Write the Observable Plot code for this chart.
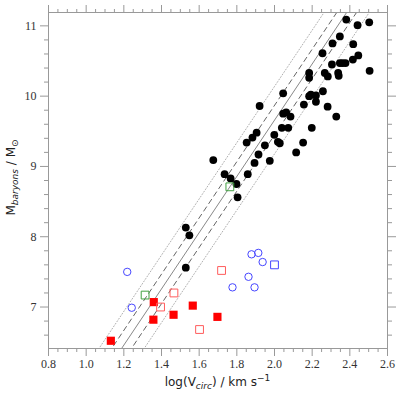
<!DOCTYPE html>
<html>
<head>
<meta charset="utf-8">
<script src="https://cdn.jsdelivr.net/npm/d3@7"></script>
<script src="https://cdn.jsdelivr.net/npm/@observablehq/plot@0.6"></script>
<style>
  html, body { margin: 0; padding: 0; background: #fff; }
</style>
</head>
<body>
<div id="chart"></div>
<script>
// ---- data (log Vcirc, log Mbaryons) ----
const blackX = [2.381, 2.441, 2.503, 2.347, 2.308, 2.418, 2.255, 2.445, 2.416, 2.305,
  2.347, 2.361, 2.377, 2.505, 2.184, 2.184, 2.267, 2.283, 2.338, 2.341,
  2.046, 2.184, 2.193, 2.22, 2.257, 2.22, 2.156, 2.282, 2.328, 1.921,
  2.046, 2.062, 2.085, 2.039, 2.073, 2.198, 1.905, 1.883, 1.852, 1.999,
  1.949, 2.018, 2.028, 2.152, 2.115, 1.915, 1.894, 1.975, 1.675, 1.858,
  1.735, 1.767, 1.798, 1.804, 1.529, 1.548, 1.529];
const blackM = [11.09, 11.01, 11.05, 10.85, 10.75, 10.74, 10.61, 10.58, 10.52, 10.45,
  10.47, 10.47, 10.47, 10.36, 10.33, 10.26, 10.33, 10.28, 10.33, 10.29,
  10.04, 10.00, 10.02, 10.01, 10.07, 9.92, 9.88, 9.85, 9.71, 9.86,
  9.75, 9.77, 9.71, 9.55, 9.55, 9.55, 9.48, 9.41, 9.34, 9.45,
  9.30, 9.35, 9.33, 9.34, 9.20, 9.17, 9.05, 9.08, 9.09, 8.89,
  8.89, 8.83, 8.75, 8.56, 8.13, 8.02, 7.56];

const greenSqX = [1.763, 1.313];
const greenSqM = [8.71, 7.17];

const blueCircX = [1.218, 1.242, 1.878, 1.914, 1.937, 1.862, 1.777, 1.894];
const blueCircM = [7.50, 6.99, 7.75, 7.77, 7.64, 7.43, 7.28, 7.28];

const blueSqX = [2.0];
const blueSqM = [7.60];

const redOpenX = [1.466, 1.395, 1.602, 1.719];
const redOpenM = [7.20, 7.00, 6.68, 7.52];

const redFillX = [1.359, 1.357, 1.464, 1.566, 1.697, 1.131];
const redFillM = [7.07, 6.82, 6.89, 7.02, 6.86, 6.52];

// relation: log M = slope * log V + intercept (+ scatter bands)
const fitSlope = 4.0;
const fitIntercept = 1.658;
const fitOffsets = [0, -0.21, 0.21, -0.48, 0.48];
const fitEnds = [0.8, 2.6];

// axes
const xTicks = [0.8, 1.0, 1.2, 1.4, 1.6, 1.8, 2.0, 2.2, 2.4, 2.6];
const yTicks = [7, 8, 9, 10, 11];
const xDomain = [0.8, 2.6];
const yDomain = [6.41, 11.19];

// ---- build ----
const pts = (xs, ms) => xs.map((x, i) => ({x, m: ms[i]}));
const isMajor = (v, majors) => majors.some(t => Math.abs(t - v) < 1e-6);
const xMinor = d3.range(0.8, 2.6001, 0.05).filter(v => !isMajor(v, xTicks));
const yMinor = d3.range(6.6, 11.1, 0.2).filter(v => !isMajor(v, yTicks));

const lineStyles = [
  {stroke: "#888", dash: null},
  {stroke: "#666", dash: "5,4"},
  {stroke: "#666", dash: "5,4"},
  {stroke: "#b0b0b0", dash: "1,2"},
  {stroke: "#b0b0b0", dash: "1,2"}
];

const axisCol = "#999";
const labCol = "#333";
const serif = "'Liberation Serif', 'Times New Roman', serif";
const noText = () => "";

const marks = [
  ...fitOffsets.map((off, i) => Plot.line(fitEnds, {
    x: d => d, y: d => fitSlope * d + fitIntercept + off,
    stroke: lineStyles[i].stroke, strokeWidth: 1,
    strokeDasharray: lineStyles[i].dash, clip: true
  })),
  Plot.dot(pts(blackX, blackM), {x: "x", y: "m", r: 3.9, fill: "#000", stroke: "none"}),
  Plot.dot(pts(redFillX, redFillM), {x: "x", y: "m", symbol: "square", r: 4.6, fill: "#ff0000", stroke: "none"}),
  Plot.dot(pts(redOpenX, redOpenM), {x: "x", y: "m", symbol: "square", r: 4.4, fill: "none", stroke: "#ff5c5c", strokeWidth: 1}),
  Plot.dot(pts(greenSqX, greenSqM), {x: "x", y: "m", symbol: "square", r: 4.4, fill: "none", stroke: "#43a043", strokeWidth: 1}),
  Plot.dot(pts(blueSqX, blueSqM), {x: "x", y: "m", symbol: "square", r: 4.4, fill: "none", stroke: "#4646ff", strokeWidth: 1}),
  Plot.dot(pts(blueCircX, blueCircM), {x: "x", y: "m", r: 3.7, fill: "none", stroke: "#4646ff", strokeWidth: 1}),
  Plot.frame({stroke: axisCol}),
  // bottom axis
  Plot.axisX(xTicks, {anchor: "bottom", tickSize: 8, tickPadding: 3, tickFormat: d => d.toFixed(1), stroke: axisCol, fill: labCol, fontFamily: serif, fontSize: 12, label: null}),
  Plot.axisX(xMinor, {anchor: "bottom", tickSize: 4, tickFormat: noText, stroke: axisCol, label: null}),
  // top axis
  Plot.axisX(xTicks, {anchor: "top", tickSize: 8, tickFormat: noText, stroke: axisCol, label: null}),
  Plot.axisX(xMinor, {anchor: "top", tickSize: 4, tickFormat: noText, stroke: axisCol, label: null}),
  // left axis
  Plot.axisY(yTicks, {anchor: "left", tickSize: 8, tickPadding: 4, tickFormat: d => String(d), stroke: axisCol, fill: labCol, fontFamily: serif, fontSize: 12, label: null}),
  Plot.axisY(yMinor, {anchor: "left", tickSize: 4, tickFormat: noText, stroke: axisCol, label: null}),
  // right axis
  Plot.axisY(yTicks, {anchor: "right", tickSize: 8, tickFormat: noText, stroke: axisCol, label: null}),
  Plot.axisY(yMinor, {anchor: "right", tickSize: 4, tickFormat: noText, stroke: axisCol, label: null})
];

const plot = Plot.plot({
  width: 400,
  height: 395,
  marginTop: 12,
  marginRight: 13,
  marginBottom: 47,
  marginLeft: 48,
  x: {domain: xDomain},
  y: {domain: yDomain},
  style: {fontFamily: serif, fontSize: "12px", background: "#fff", color: "#333"},
  marks
});

// make sure tick labels use the serif face
d3.select(plot).selectAll("text").attr("font-family", serif).style("font-family", serif);

// axis titles with sub/superscripts
const svg = d3.select(plot);
const sans = "'DejaVu Sans', sans-serif";
const xl = svg.append("text")
  .attr("x", 217.5).attr("y", 385.5)
  .attr("text-anchor", "middle")
  .style("font-family", sans).attr("font-size", 12).attr("fill", "#222");
xl.append("tspan").text("log(V");
xl.append("tspan").attr("dy", 3).attr("font-size", 9).attr("font-style", "italic").text("circ");
xl.append("tspan").attr("dy", -3).text(") / km s");
xl.append("tspan").attr("dy", -5).attr("font-size", 9).text("\u22121");

const yl = svg.append("text")
  .attr("transform", "translate(15,177.5) rotate(-90)")
  .attr("text-anchor", "middle")
  .style("font-family", sans).attr("font-size", 12).attr("fill", "#222");
yl.append("tspan").text("M");
yl.append("tspan").attr("dy", 3).attr("font-size", 9).attr("font-style", "italic").text("baryons");
yl.append("tspan").attr("dy", -3).text(" / M");
yl.append("tspan").attr("dy", 3).attr("font-size", 9).text("\u2299");

document.getElementById("chart").appendChild(plot);
</script>
</body>
</html>
